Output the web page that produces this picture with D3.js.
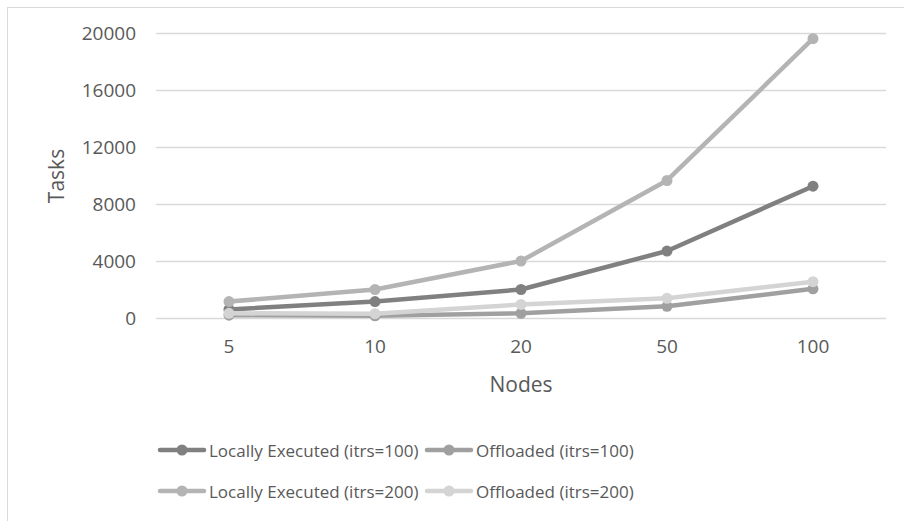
<!DOCTYPE html>
<html><head><meta charset="utf-8">
<script src="https://cdn.jsdelivr.net/npm/d3@7"></script>
<style>body{margin:0;background:#fff;font-family:"Open Sans",sans-serif;}</style>
</head><body><svg id="c" width="904" height="521"></svg>
<script>
const categories = ["5","10","20","50","100"];
const seriesNames = ["Locally Executed (itrs=100)","Offloaded (itrs=100)","Locally Executed (itrs=200)","Offloaded (itrs=200)"];
const locally100 = [600, 1150, 2000, 4700, 9250];
const offloaded100 = [200, 150, 330, 820, 2050];
const locally200 = [1150, 2000, 4000, 9650, 19600];
const offloaded200 = [330, 300, 950, 1380, 2550];
const yTicks = [0, 4000, 8000, 12000, 16000, 20000];
const colors = ["#808080", "#a0a0a0", "#b4b4b4", "#d4d4d4"];
const seriesValues = [locally100, offloaded100, locally200, offloaded200];

const svg = d3.select("#c");
svg.append("rect").attr("x",7.5).attr("y",7.5).attr("width",905).attr("height",520)
  .attr("fill","#fff").attr("stroke","#d9d9d9").attr("stroke-width",1);

const x = d3.scaleBand().domain(categories).range([156, 886]);
const y = d3.scaleLinear().domain([0, 20000]).range([318, 33]);

const gy = svg.append("g").attr("transform","translate(156,0)")
  .call(d3.axisLeft(y).tickValues(yTicks).tickSize(-730).tickPadding(20).tickFormat(d3.format("d")));
gy.select(".domain").remove();
gy.selectAll("line").attr("stroke","#d9d9d9").attr("stroke-width",1.3);
gy.selectAll("text").attr("fill","#595959").style("font-size","19px").style("font-family","'Open Sans',sans-serif");

const gx = svg.append("g").attr("transform","translate(0,318)")
  .call(d3.axisBottom(x).tickSize(0).tickPadding(22));
gx.select(".domain").remove();
gx.selectAll("text").attr("fill","#595959").style("font-size","19px").style("font-family","'Open Sans',sans-serif");

svg.append("text").attr("transform","translate(64,176) rotate(-90)").attr("text-anchor","middle")
  .attr("fill","#595959").style("font-size","21px").text("Tasks");
svg.append("text").attr("x",521).attr("y",392).attr("text-anchor","middle")
  .attr("fill","#595959").style("font-size","21px").text("Nodes");

const line = d3.line().x((d,i)=>x(categories[i]) + x.bandwidth()/2).y(d=>y(d));
seriesValues.forEach((vals,k)=>{
  svg.append("path").datum(vals).attr("d",line).attr("fill","none")
    .attr("stroke",colors[k]).attr("stroke-width",4.5).attr("stroke-linejoin","round").attr("stroke-linecap","round");
  svg.selectAll(null).data(vals).enter().append("circle")
    .attr("cx",(d,i)=>x(categories[i]) + x.bandwidth()/2).attr("cy",d=>y(d)).attr("r",5.5)
    .attr("fill",colors[k]);
});

// legend
const legPos = [[160,450],[427,450],[160,491],[427,491]];
seriesNames.forEach((name,k)=>{
  const [lx,ly] = legPos[k];
  const g = svg.append("g").attr("transform",`translate(${lx},${ly})`);
  g.append("line").attr("x1",0).attr("x2",44).attr("y1",0).attr("y2",0)
    .attr("stroke",colors[k]).attr("stroke-width",4.5).attr("stroke-linecap","round");
  g.append("circle").attr("cx",22).attr("cy",0).attr("r",5.5).attr("fill",colors[k]);
  g.append("text").attr("x",49).attr("y",6.5).attr("fill","#595959").style("font-size","17px")
    .text(name);
});
</script></body></html>
